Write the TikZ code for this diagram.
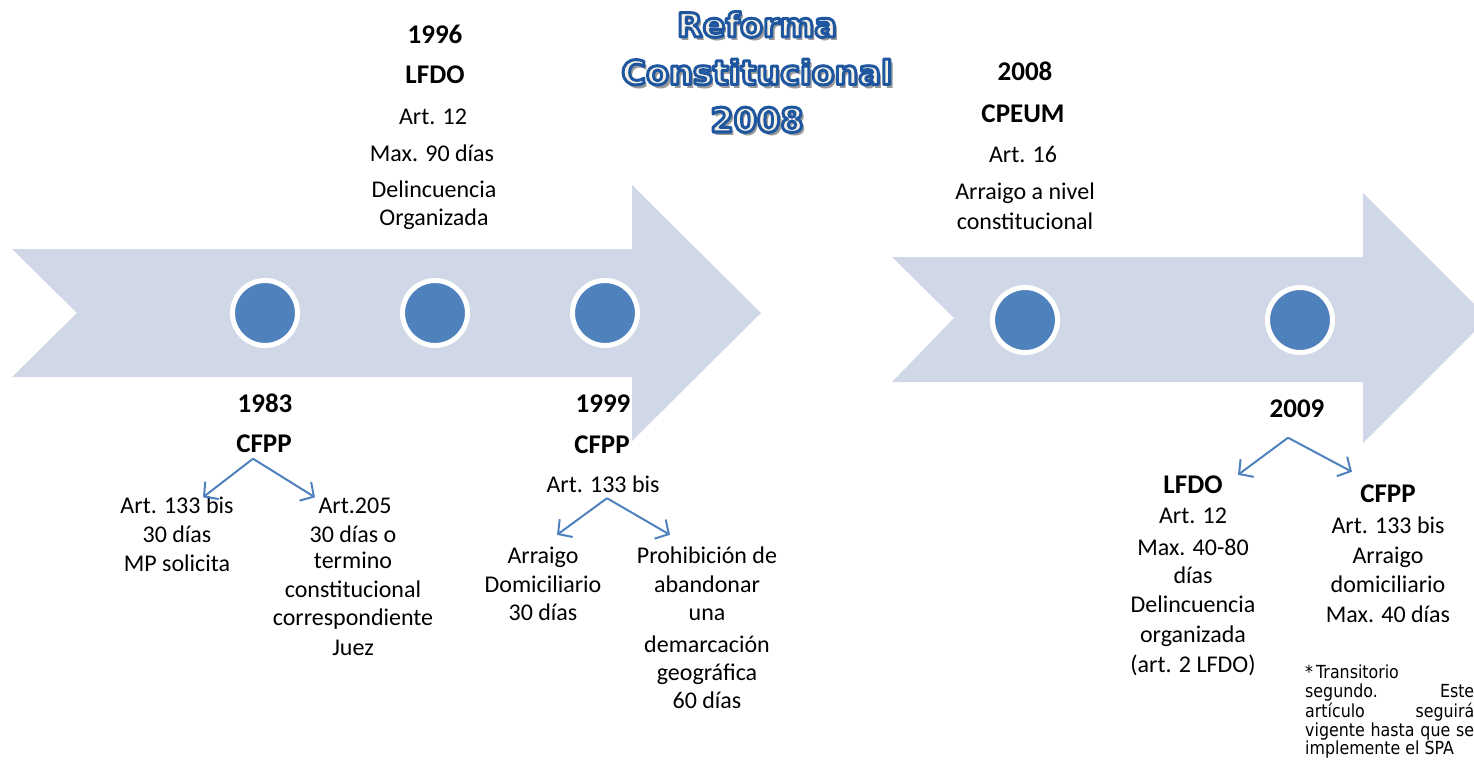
\documentclass[tikz,border=0pt]{standalone}
\usepackage{fontspec}
\setmainfont{Carlito}
\newfontfamily\titlefont{DejaVu Sans}
\newfontfamily\notefont[FakeStretch=0.88]{DejaVu Sans}
\usetikzlibrary{arrows.meta,calc}
\definecolor{band}{HTML}{D0D8E8}
\definecolor{dotblue}{HTML}{4F81BD}
\definecolor{titleblue}{HTML}{1E56A0}
\definecolor{titlefill}{HTML}{F4F1E6}
\definecolor{titleshade}{HTML}{9A9A9A}
% outlined lettering: fill + stroke text rendering mode
\newcommand\outlinedtext[1]{\special{pdf:literal direct 2 Tr 3 w 1 j 0.118 0.337 0.627 RG}#1\special{pdf:literal direct 0 Tr}}
% one title line: grey drop shadow behind the outlined word
\newcommand\titleline[1]{\rlap{\kern3pt\raisebox{-4pt}[0pt][0pt]{\textcolor{titleshade}{#1}}}\outlinedtext{#1}}

\begin{document}
\begin{tikzpicture}[x=1pt,y=-1pt,
  lbl/.style={font=\fontsize{24}{28}\selectfont, text height=16, text depth=5, inner sep=0, align=center},
  lblb/.style={lbl, font=\fontsize{27}{30}\selectfont\bfseries},
  dot/.style={circle, fill=dotblue, draw=white, line width=5, minimum size=65, inner sep=0},
  conn/.style={draw=dotblue, line width=2, -{Straight Barb[length=10,width=22]}},
  ttl/.style={font=\titlefont\bfseries\fontsize{33.5}{47.5}\selectfont, align=center, inner sep=0},
  note/.style={font=\notefont\fontsize{18}{18.5}\selectfont, text width=169, inner sep=0, align=justify}]

\useasboundingbox (0,0) rectangle (1474,780);

% timeline bands
\fill[band] (12,249) -- (632,249) -- (632,185) -- (761,313) -- (632,441)
  -- (632,377) -- (12,377) -- (77,313) -- cycle;
\fill[band] (892,257) -- (1363,257) -- (1363,193) -- (1488,318) -- (1363,443)
  -- (1363,382) -- (892,382) -- (954,318) -- cycle;

% milestones
\node[dot] (d83) at (265,313) {};
\node[dot] (d96) at (435,313) {};
\node[dot] (d99) at (605,313) {};
\node[dot] (d08) at (1025,320) {};
\node[dot] (d09) at (1300,320) {};

% title
\node[ttl, text=titlefill] (title) at (757,72)
  {\titleline{Reforma}\\\titleline{Constitucional}\\\titleline{2008}};

% 1996
\node[lblb] (y96) at (435,38) {1996};
\node[lblb] (l96) at (435,78) {LFDO};
\node[lbl] (a96) at (433,119) {Art. 12};
\node[lbl] (m96) at (432,156) {Max. 90 días};
\node[lbl] (d96t) at (434,192) {Delincuencia};
\node[lbl] (o96) at (434,220) {Organizada};

% 2008
\node[lblb] (y08) at (1025,75) {2008};
\node[lblb] (c08) at (1023,117) {CPEUM};
\node[lbl] (a08) at (1023,157) {Art. 16};
\node[lbl] (r08) at (1025,194) {Arraigo a nivel};
\node[lbl] (k08) at (1025,224) {constitucional};

% 1983
\node[lblb] (y83) at (265,407) {1983};
\node[lblb] (c83) at (264,447) {CFPP};
\node[lbl] (a83) at (177,508) {Art. 133 bis};
\node[lbl] (b83) at (177,537) {30 días};
\node[lbl] (m83) at (177,566) {MP solicita};
\node[lbl] (a205) at (355,508) {Art.205};
\node[lbl] (b205) at (353,537) {30 días o};
\node[lbl] (t205) at (353,563) {termino};
\node[lbl] (k205) at (353,592) {constitucional};
\node[lbl] (r205) at (353,620) {correspondiente};
\node[lbl] (j205) at (353,650) {Juez};
\coordinate (s83) at ($(c83.south)+(-11,1)$);
\draw[conn] (s83) -- ($(a83.north)+(26,0)$);
\draw[conn] (s83) -- ($(a205.north)+(-40,0)$);

% 1999
\node[lblb] (y99) at (603,407) {1999};
\node[lblb] (c99) at (602,448) {CFPP};
\node[lbl] (a99) at (603,487) {Art. 133 bis};
\node[lbl] (r99) at (543,558) {Arraigo};
\node[lbl] (dm99) at (543,587) {Domiciliario};
\node[lbl] (t99) at (543,615) {30 días};
\node[lbl] (p99) at (707,558) {Prohibición de};
\node[lbl] (ab99) at (707,587) {abandonar};
\node[lbl] (u99) at (707,615) {una};
\node[lbl] (de99) at (707,647) {demarcación};
\node[lbl] (g99) at (707,675) {geográfica};
\node[lbl] (s99) at (707,703) {60 días};
\coordinate (s99c) at ($(a99.south)+(4,0.5)$);
\draw[conn] (s99c) -- ($(r99.north)+(14,-12.5)$);
\draw[conn] (s99c) -- ($(p99.north)+(-37,-12.5)$);

% 2009
\node[lblb] (y09) at (1297,412) {2009};
\node[lblb] (l09) at (1193,488) {LFDO};
\node[lbl] (a09) at (1193,518) {Art. 12};
\node[lbl] (m09) at (1193,550) {Max. 40-80};
\node[lbl] (d09t) at (1193,578) {días};
\node[lbl] (de09) at (1193,607) {Delincuencia};
\node[lbl] (o09) at (1193,637) {organizada};
\node[lbl] (p09) at (1193,667) {(art. 2 LFDO)};
\node[lblb] (c09) at (1388,497) {CFPP};
\node[lbl] (b09) at (1388,528) {Art. 133 bis};
\node[lbl] (r09) at (1388,558) {Arraigo};
\node[lbl] (dm09) at (1388,587) {domiciliario};
\node[lbl] (x09) at (1388,617) {Max. 40 días};
\coordinate (s09) at ($(y09.south)+(-9,15)$);
\draw[conn] (s09) -- ($(l09.north)+(45,-2.5)$);
\draw[conn] (s09) -- ($(c09.north)+(-36,-14.5)$);

% footnote
\node[note, anchor=north west] (fn) at (1305,665)
  {*\,Transitorio\newline\vspace*{2pt}segundo. Este\linebreak artículo seguirá\linebreak vigente hasta que se\linebreak implemente el SPA};
\end{tikzpicture}
\end{document}
